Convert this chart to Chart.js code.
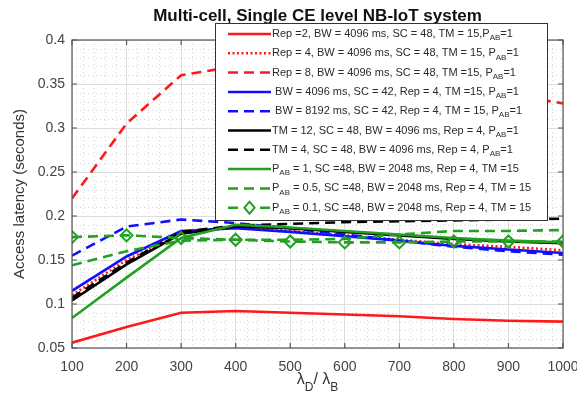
<!DOCTYPE html>
<html><head><meta charset="utf-8">
<script src="https://cdn.jsdelivr.net/npm/chart.js@4/dist/chart.umd.min.js"></script>
<style>html,body{margin:0;padding:0;background:#fff}#wrap{width:577px;height:396px}</style>
</head><body><div id="wrap"><canvas id="c" width="577" height="396"></canvas></div>
<script>
const xValues=[100,200,300,400,500,600,700,800,900,1000];
const xTicks=[100,200,300,400,500,600,700,800,900,1000];
const yTicks=[0.05,0.1,0.15,0.2,0.25,0.3,0.35,0.4];
const yTickLabels=['0.05','0.1','0.15','0.2','0.25','0.3','0.35','0.4'];

const rep2   =[0.056,0.074,0.090,0.092,0.090,0.088,0.086,0.083,0.081,0.080];
const rep4   =[0.110,0.150,0.180,0.187,0.183,0.178,0.173,0.168,0.165,0.161];
const rep8   =[0.220,0.305,0.360,0.370,0.368,0.362,0.355,0.347,0.338,0.328];
const bw4096 =[0.115,0.154,0.183,0.186,0.182,0.177,0.172,0.166,0.162,0.158];
const bw8192 =[0.155,0.188,0.196,0.192,0.186,0.179,0.172,0.165,0.160,0.156];
const tm12   =[0.104,0.145,0.180,0.188,0.186,0.182,0.178,0.174,0.171,0.169];
const tm4    =[0.107,0.147,0.182,0.189,0.191,0.193,0.194,0.195,0.196,0.197];
const pab1   =[0.084,0.130,0.175,0.190,0.187,0.183,0.179,0.175,0.172,0.170];
const pab05  =[0.144,0.160,0.172,0.173,0.173,0.174,0.179,0.183,0.183,0.184];
const pab01  =[0.176,0.178,0.175,0.173,0.171,0.170,0.170,0.171,0.171,0.171];

const legendLabels=[
 'Rep =2, BW = 4096 ms, SC = 48, TM = 15,P_{AB}=1',
 'Rep = 4, BW = 4096 ms, SC = 48, TM = 15, P_{AB}=1',
 'Rep = 8, BW = 4096 ms, SC = 48, TM =15, P_{AB}=1',
 ' BW = 4096 ms, SC = 42, Rep = 4, TM =15, P_{AB}=1',
 ' BW = 8192 ms, SC = 42, Rep = 4, TM = 15, P_{AB}=1',
 'TM = 12, SC = 48, BW = 4096 ms, Rep = 4, P_{AB}=1',
 'TM = 4, SC = 48, BW = 4096 ms, Rep = 4, P_{AB}=1',
 'P_{AB} = 1, SC =48, BW = 2048 ms, Rep = 4, TM =15',
 'P_{AB} = 0.5, SC =48, BW = 2048 ms, Rep = 4, TM = 15',
 'P_{AB} = 0.1, SC =48, BW = 2048 ms, Rep = 4, TM = 15'
];
const titleText='Multi-cell, Single CE level NB-IoT system';
const yTitle='Access latency (seconds)';
const xTitle='λ_{D}/ λ_{B}';

const series=[rep2,rep4,rep8,bw4096,bw8192,tm12,tm4,pab1,pab05,pab01];
const RED='#ff1a1a',BLUE='#1010ff',BLACK='#000000',GREEN='#22a022';
const DASH=[10,6],DOT=[2,2.5];
const styles=[
 {c:RED,d:[]},{c:RED,d:DOT},{c:RED,d:DASH},
 {c:BLUE,d:[]},{c:BLUE,d:DASH},
 {c:BLACK,d:[]},{c:BLACK,d:DASH},
 {c:GREEN,d:[]},{c:GREEN,d:DASH},{c:GREEN,d:DASH,m:true}
];
const FONT='"Liberation Sans", Arial, Helvetica, sans-serif';

function drawRich(ctx,str,x,y,size,subSize,subDy,color){
  const parts=str.split(/_\{([^}]*)\}/);
  ctx.fillStyle=color; ctx.textBaseline='middle'; ctx.textAlign='left';
  let cx=x;
  parts.forEach((p,i)=>{
    const sub=i%2===1;
    ctx.font=(sub?subSize:size)+'px '+FONT;
    ctx.fillText(p,cx,sub?y+subDy:y);
    cx+=ctx.measureText(p).width;
  });
  return cx-x;
}
function richWidth(ctx,str,size,subSize){
  const parts=str.split(/_\{([^}]*)\}/);let w=0;
  parts.forEach((p,i)=>{ctx.font=((i%2)?subSize:size)+'px '+FONT;w+=ctx.measureText(p).width;});
  return w;
}
function diamond(ctx,x,y,r,color){
  ctx.save();ctx.setLineDash([]);ctx.strokeStyle=color;ctx.lineWidth=2;
  ctx.beginPath();ctx.moveTo(x,y-r);ctx.lineTo(x+r*0.85,y);ctx.lineTo(x,y+r);ctx.lineTo(x-r*0.85,y);ctx.closePath();
  ctx.fillStyle='#fff';ctx.fill();ctx.stroke();ctx.restore();
}

const decor={
  id:'decor',
  beforeDatasetsDraw(chart){
    const {ctx,chartArea:a,scales:{x,y}}=chart;
    ctx.save();ctx.strokeStyle='#d6d6d6';ctx.lineWidth=1;ctx.setLineDash([1,3]);
    for(let v=120;v<1000;v+=20){ if(v%100===0)continue;
      const px=Math.round(x.getPixelForValue(v))+0.5;
      ctx.beginPath();ctx.moveTo(px,a.top);ctx.lineTo(px,a.bottom);ctx.stroke();}
    for(let k=6;k<40;k++){ if(k%5===0)continue;
      const py=Math.round(y.getPixelForValue(k/100))+0.5;
      ctx.beginPath();ctx.moveTo(a.left,py);ctx.lineTo(a.right,py);ctx.stroke();}
    ctx.restore();
  },
  afterDatasetsDraw(chart){
    const {ctx,chartArea:a,scales:{x,y}}=chart;
    ctx.save();ctx.setLineDash([]);ctx.strokeStyle='#555';ctx.lineWidth=1.2;
    ctx.strokeRect(a.left,a.top,a.right-a.left,a.bottom-a.top);
    ctx.beginPath();
    xTicks.forEach(v=>{const px=x.getPixelForValue(v);
      ctx.moveTo(px,a.bottom);ctx.lineTo(px,a.bottom-5);ctx.moveTo(px,a.top);ctx.lineTo(px,a.top+5);});
    yTicks.forEach(v=>{const py=y.getPixelForValue(v);
      ctx.moveTo(a.left,py);ctx.lineTo(a.left+5,py);ctx.moveTo(a.right,py);ctx.lineTo(a.right-5,py);});
    ctx.stroke();
    const cx=(a.left+a.right)/2;
    const w=richWidth(ctx,xTitle,16,12);
    drawRich(ctx,xTitle,cx-w/2,a.bottom+32,16,12,8,'#333');
    ctx.restore();
  },
  afterDraw(chart){
    const {ctx,chartArea:a}=chart;
    ctx.save();
    ctx.font='bold 17px '+FONT;ctx.fillStyle='#111';ctx.textAlign='center';ctx.textBaseline='middle';
    ctx.fillText(titleText,(a.left+a.right)/2,16);
    const L=215,T=23,W=332,H=197;
    ctx.fillStyle='#fff';ctx.fillRect(L,T,W,H);
    ctx.strokeStyle='#333';ctx.lineWidth=1;ctx.strokeRect(L+0.5,T+0.5,W,H);
    legendLabels.forEach((lab,i)=>{
      const yy=34+i*19.3;const s=styles[i];
      ctx.save();ctx.strokeStyle=s.c;ctx.lineWidth=2.5;ctx.setLineDash(s.d);
      ctx.beginPath();ctx.moveTo(228,yy);ctx.lineTo(271,yy);ctx.stroke();ctx.restore();
      if(s.m)diamond(ctx,249.5,yy,6,s.c);
      drawRich(ctx,lab,272,yy,11,8,4,'#2a2a2a');
    });
    ctx.restore();
  }
};

const datasets=series.map((v,i)=>({
  label:legendLabels[i].replace(/_\{([^}]*)\}/g,'$1'),
  data:xValues.map((xv,j)=>({x:xv,y:v[j]})),
  borderColor:styles[i].c,borderDash:styles[i].d,borderWidth:2.6,
  pointRadius:styles[i].m?6:0,pointHoverRadius:styles[i].m?6:0,pointStyle:'rectRot',
  pointBackgroundColor:'rgba(255,255,255,0)',pointBorderColor:styles[i].c,pointBorderWidth:2,
  tension:0,fill:false,order:20-i
}));

new Chart(document.getElementById('c'),{
  type:'line',
  data:{datasets},
  plugins:[decor],
  options:{
    responsive:false,animation:false,devicePixelRatio:1,
    layout:{padding:{top:40,right:14,left:0,bottom:0}},
    plugins:{legend:{display:false},title:{display:false},tooltip:{enabled:false}},
    scales:{
      x:{type:'linear',min:100,max:1000,
        afterBuildTicks:s=>{s.ticks=xTicks.map(v=>({value:v}));},
        ticks:{color:'#444',font:{family:FONT,size:14},padding:11,maxRotation:0,autoSkip:false,callback:v=>String(v)},
        grid:{color:'#dedede',drawTicks:false},border:{display:false},
        afterFit:s=>{s.height=48;s.paddingLeft=0;s.paddingRight=0;}
      },
      y:{type:'linear',min:0.05,max:0.4,
        afterBuildTicks:s=>{s.ticks=yTicks.map(v=>({value:v}));},
        ticks:{color:'#444',font:{family:FONT,size:14},padding:7,autoSkip:false,
          callback:(v)=>{const i=yTicks.findIndex(t=>Math.abs(t-v)<1e-9);return i>=0?yTickLabels[i]:'';}},
        grid:{color:'#dedede',drawTicks:false},border:{display:false},
        title:{display:true,text:yTitle,color:'#333',font:{family:FONT,size:15},padding:{top:11,bottom:0}},
        afterFit:s=>{s.width=72;s.paddingTop=0;s.paddingBottom=0;}
      }
    }
  }
});
</script></body></html>
